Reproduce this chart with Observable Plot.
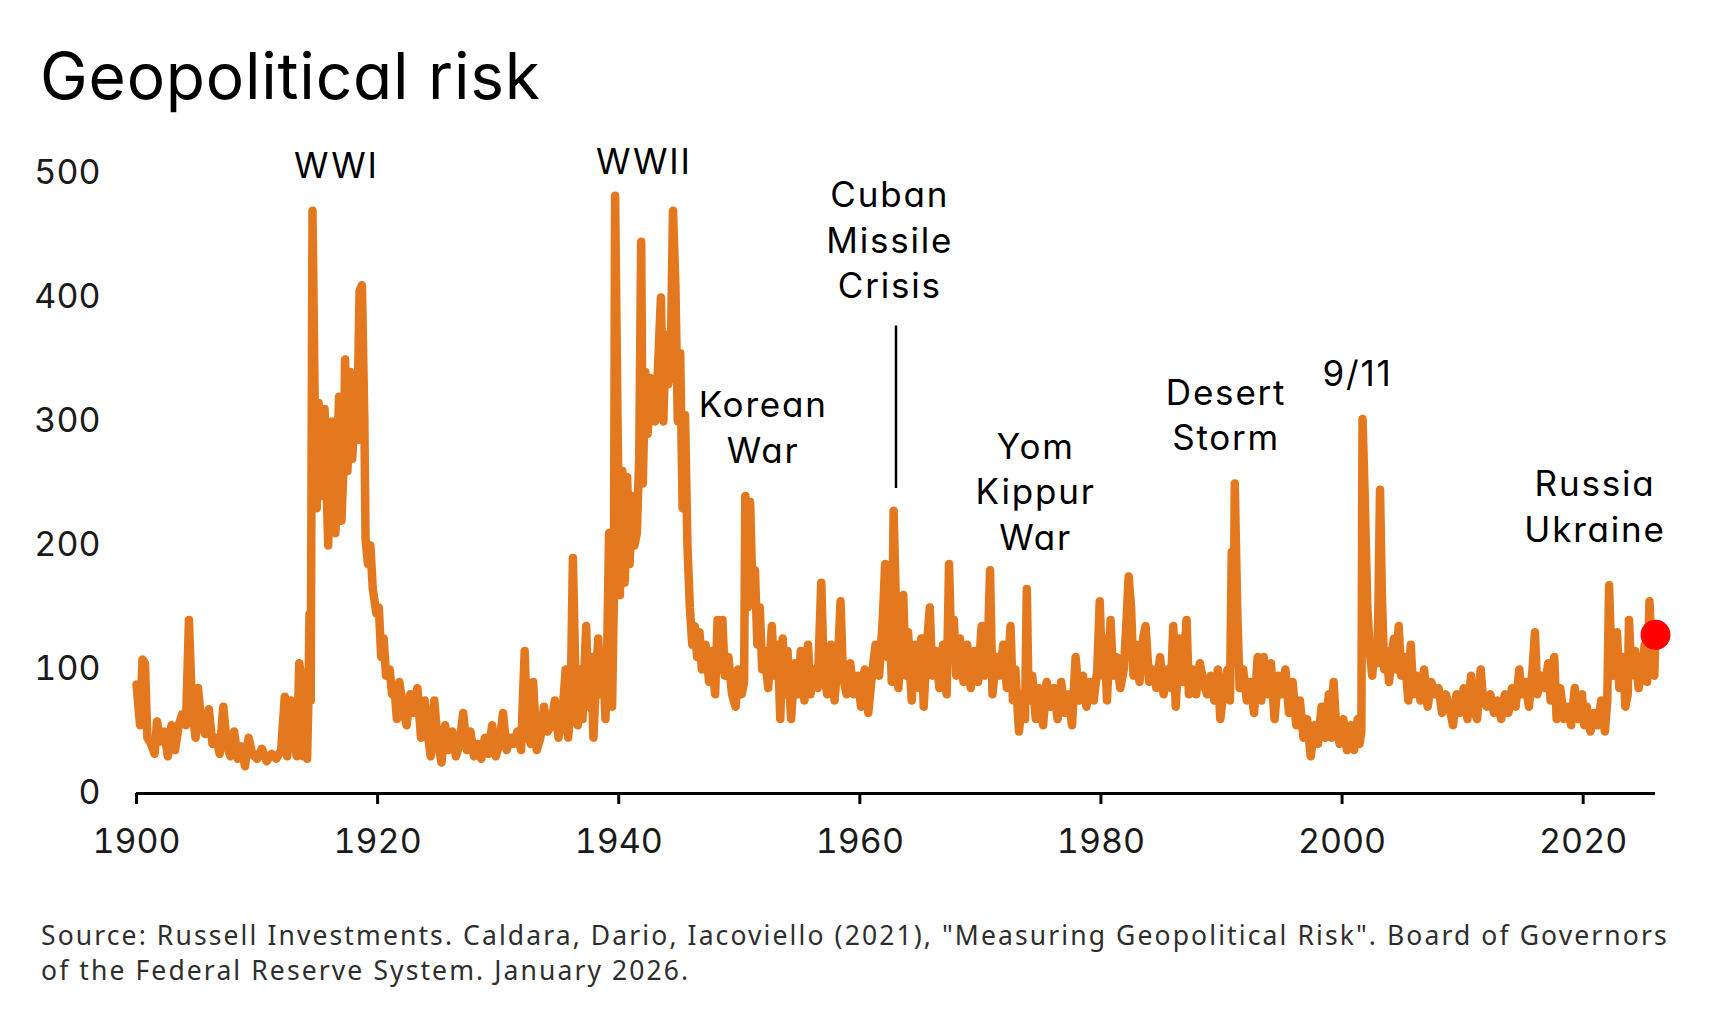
<!DOCTYPE html>
<html><head><meta charset="utf-8">
<script src="https://cdn.jsdelivr.net/npm/d3@7"></script>
<script src="https://cdn.jsdelivr.net/npm/@observablehq/plot@0.6"></script>
<style>
html,body{margin:0;padding:0;background:#fff;}
body{width:1710px;height:1009px;position:relative;overflow:hidden;font-family:Inter,"Noto Sans",sans-serif;}
#title{position:absolute;left:40px;top:44px;font-size:64px;line-height:64px;color:#000;font-weight:400;font-feature-settings:"cv11" 1;letter-spacing:0.8px;white-space:nowrap;}
#chart{position:absolute;left:0;top:130px;}
#note{position:absolute;left:41px;top:918px;font-family:"Noto Sans",sans-serif;font-size:26.5px;line-height:35px;color:#2e2e2e;letter-spacing:2.1px;white-space:nowrap;}
#chart text{font-feature-settings:"cv11" 1;}
</style>
</head><body>
<div id="title">Geopolitical risk</div>
<div id="chart"></div>
<div id="note">Source: Russell Investments. Caldara, Dario, Iacoviello (2021), "Measuring Geopolitical Risk". Board of Governors<br>of the Federal Reserve System. January 2026.</div>
<script>
// Geopolitical risk index, [year, value]
const preWW1 = [[1900.0,88],[1900.3,55],[1900.5,108],[1900.7,105],[1900.9,45],[1901.2,40],[1901.5,32],[1901.7,58],[1902.0,42],[1902.3,50],[1902.6,30],[1902.9,55],[1903.2,35],[1903.5,55],[1903.8,64],[1904.1,55],[1904.35,140],[1904.6,70],[1904.9,45],[1905.1,85],[1905.4,55],[1905.7,48],[1906.0,68],[1906.3,40],[1906.6,45],[1906.9,32],[1907.2,70],[1907.5,38],[1907.8,30],[1908.1,50],[1908.4,28],[1908.7,38],[1909.0,22],[1909.3,45],[1909.6,32],[1910.0,28],[1910.4,36],[1910.8,26],[1911.2,32],[1911.6,28],[1912.0,35],[1912.3,78],[1912.5,30],[1912.8,75],[1913.1,40],[1913.3,30],[1913.5,105],[1913.65,95],[1913.8,30],[1913.95,60],[1914.05,75],[1914.15,28],[1914.25,70],[1914.35,145],[1914.45,75]];
const ww1 = [[1914.6,470],[1914.8,300],[1914.95,230],[1915.1,315],[1915.3,240],[1915.6,310],[1915.9,200],[1916.2,300],[1916.5,210],[1916.8,320],[1917.0,220],[1917.2,270],[1917.3,350],[1917.5,260],[1917.7,340],[1917.9,270],[1918.1,310],[1918.3,285],[1918.5,405],[1918.7,410],[1918.9,300],[1919.0,205],[1919.2,185],[1919.4,200],[1919.6,165],[1919.9,145],[1920.1,150],[1920.3,110],[1920.5,125],[1920.7,95],[1921.0,100]];
const interwar = [[1921.2,80],[1921.4,85],[1921.6,60],[1921.8,90],[1922.1,70],[1922.4,55],[1922.7,80],[1923.0,65],[1923.3,85],[1923.6,45],[1923.9,75],[1924.2,45],[1924.4,30],[1924.7,75],[1925.0,40],[1925.3,25],[1925.6,55],[1925.9,35],[1926.2,50],[1926.5,30],[1926.8,40],[1927.1,65],[1927.4,35],[1927.7,50],[1928.0,30],[1928.3,40],[1928.6,28],[1928.9,45],[1929.2,32],[1929.5,55],[1929.8,30],[1930.1,40],[1930.4,65],[1930.7,35],[1931.0,45],[1931.3,40],[1931.6,50],[1931.9,35],[1932.2,115],[1932.4,50],[1932.7,40],[1932.9,90],[1933.2,35],[1933.5,45],[1933.8,70],[1934.1,50],[1934.4,55],[1934.7,75],[1935.0,45],[1935.3,60],[1935.6,100],[1935.8,45],[1936.0,65],[1936.2,190],[1936.4,95],[1936.6,55],[1936.8,100],[1937.0,60],[1937.3,135],[1937.5,70],[1937.7,110],[1937.9,45],[1938.1,90],[1938.3,125],[1938.5,80],[1938.7,110],[1938.9,60],[1939.0,90],[1939.2,210],[1939.35,100],[1939.45,70],[1939.6,160]];
const ww2 = [[1939.7,482],[1939.9,300],[1940.1,160],[1940.3,260],[1940.5,170],[1940.7,255],[1940.9,185],[1941.1,240],[1941.3,200],[1941.5,210],[1941.7,270],[1941.86,445],[1942.0,250],[1942.2,340],[1942.4,290],[1942.6,335],[1942.8,320],[1943.0,300],[1943.2,330],[1943.5,400],[1943.7,300],[1943.9,370],[1944.1,330],[1944.3,340],[1944.5,470],[1944.7,410],[1944.9,300],[1945.1,355],[1945.3,230],[1945.5,305],[1945.7,200],[1945.9,150],[1946.1,120],[1946.3,135],[1946.5,110],[1946.7,130],[1946.9,100]];
const coldWar = [[1947.2,120],[1947.5,90],[1947.7,115],[1948.0,80],[1948.2,140],[1948.4,100],[1948.6,140],[1948.8,95],[1949.1,110],[1949.4,80],[1949.7,70],[1949.9,100],[1950.2,80],[1950.4,90],[1950.5,240],[1950.7,150],[1950.9,235],[1951.1,160],[1951.3,180],[1951.5,120],[1951.7,150],[1951.9,100],[1952.1,115],[1952.4,85],[1952.7,135],[1952.9,95],[1953.2,120],[1953.4,60],[1953.6,125],[1953.8,80],[1954.0,115],[1954.3,60],[1954.6,105],[1954.9,80],[1955.1,115],[1955.4,75],[1955.7,120],[1955.9,80],[1956.2,100],[1956.5,85],[1956.8,170],[1957.0,100],[1957.3,80],[1957.6,120],[1957.9,75],[1958.2,110],[1958.4,155],[1958.6,95],[1958.9,80],[1959.2,105],[1959.5,80],[1959.8,95],[1960.1,70],[1960.4,100],[1960.7,65],[1961.0,95],[1961.3,120],[1961.6,95],[1961.9,140],[1962.1,185],[1962.3,110],[1962.5,135],[1962.65,90],[1962.8,228],[1963.0,150],[1963.2,85],[1963.4,120],[1963.6,160],[1963.8,95],[1964.0,130],[1964.3,75],[1964.6,120],[1964.9,85],[1965.1,125],[1965.3,70],[1965.5,110],[1965.8,150],[1966.0,95],[1966.3,115],[1966.6,85],[1966.9,120],[1967.2,80],[1967.4,185],[1967.6,110],[1967.8,140],[1968.0,95],[1968.3,125],[1968.6,90],[1968.9,120],[1969.2,85],[1969.5,115],[1969.8,90],[1970.1,135],[1970.3,95],[1970.6,110],[1970.8,180],[1971.0,80],[1971.3,110],[1971.6,95],[1971.9,120],[1972.2,85],[1972.5,135],[1972.7,75],[1972.9,100],[1973.2,50],[1973.5,80],[1973.7,60],[1973.85,165],[1974.0,75],[1974.3,95],[1974.6,60],[1974.9,85]];
const lateCentury = [[1975.2,55],[1975.5,90],[1975.8,70],[1976.1,85],[1976.4,60],[1976.7,90],[1977.0,65],[1977.3,80],[1977.6,55],[1977.9,110],[1978.2,75],[1978.5,95],[1978.8,70],[1979.1,90],[1979.4,75],[1979.7,100],[1979.9,155],[1980.1,95],[1980.3,125],[1980.5,75],[1980.8,140],[1981.0,95],[1981.3,110],[1981.6,85],[1981.9,100],[1982.1,135],[1982.3,175],[1982.5,150],[1982.7,95],[1982.9,120],[1983.2,90],[1983.5,125],[1983.7,135],[1984.0,90],[1984.3,100],[1984.6,85],[1984.9,110],[1985.2,80],[1985.5,100],[1985.8,85],[1986.0,135],[1986.2,70],[1986.5,125],[1986.8,90],[1987.1,140],[1987.3,80],[1987.6,100],[1987.9,80],[1988.2,105],[1988.5,90],[1988.8,80],[1989.1,95],[1989.4,75],[1989.7,100],[1989.9,60],[1990.2,85],[1990.5,100],[1990.7,75],[1990.85,195],[1991.0,110],[1991.1,250],[1991.3,150],[1991.5,85],[1991.8,100],[1992.1,75],[1992.4,90],[1992.7,65],[1993.0,110],[1993.3,75],[1993.5,110],[1993.8,80],[1994.1,105],[1994.4,60],[1994.7,95],[1995.0,80],[1995.3,100],[1995.6,65],[1995.9,90],[1996.2,55],[1996.5,75],[1996.8,45],[1997.1,60],[1997.4,30],[1997.7,55],[1998.0,40],[1998.3,70],[1998.6,45],[1998.9,80],[1999.1,45],[1999.3,90],[1999.5,55],[1999.8,40]];
const modern = [[2000.1,60],[2000.4,35],[2000.7,55],[2001.0,35],[2001.3,60],[2001.45,40],[2001.6,50],[2001.7,302],[2001.85,250],[2002.1,150],[2002.3,115],[2002.5,95],[2002.7,120],[2002.9,105],[2003.0,140],[2003.15,245],[2003.3,160],[2003.5,100],[2003.7,115],[2003.9,90],[2004.1,110],[2004.3,125],[2004.5,100],[2004.7,135],[2004.9,95],[2005.2,110],[2005.5,75],[2005.7,120],[2005.9,80],[2006.2,95],[2006.5,75],[2006.8,100],[2007.1,70],[2007.4,90],[2007.7,80],[2008.0,85],[2008.3,65],[2008.6,80],[2008.9,70],[2009.2,55],[2009.5,80],[2009.8,65],[2010.1,85],[2010.4,60],[2010.7,95],[2010.9,70],[2011.2,60],[2011.5,100],[2011.7,75],[2012.0,70],[2012.3,80],[2012.6,65],[2012.9,75],[2013.2,60],[2013.5,80],[2013.8,65],[2014.1,85],[2014.4,70],[2014.7,100],[2014.9,80],[2015.2,90],[2015.5,70],[2015.8,100],[2016.0,130],[2016.2,80],[2016.5,95],[2016.8,85],[2017.1,105],[2017.3,75],[2017.6,110],[2017.8,60],[2018.1,85],[2018.4,60],[2018.7,70],[2019.0,55],[2019.3,85],[2019.6,60],[2019.9,80],[2020.1,55],[2020.3,70],[2020.6,50],[2020.9,65],[2021.2,55],[2021.5,75],[2021.8,50],[2022.0,75],[2022.15,168],[2022.3,120],[2022.5,95],[2022.8,130],[2023.0,85],[2023.3,110],[2023.5,70],[2023.7,80],[2023.8,140],[2024.0,95],[2024.3,115],[2024.6,85],[2024.9,100],[2025.1,120],[2025.3,90],[2025.5,155],[2025.7,110],[2025.9,95],[2026.0,128]];

const xTicks = [1900, 1920, 1940, 1960, 1980, 2000, 2020];
const yTicks = [0, 100, 200, 300, 400, 500];

const annotLabels = ["WWI", "WWII", "Korean\nWar", "Cuban\nMissile\nCrisis", "Yom\nKippur\nWar", "Desert\nStorm", "9/11", "Russia\nUkraine"];
const annotX = [1916.5, 1942.0, 1951.9, 1962.4, 1974.5, 1990.3, 2001.2, 2020.9];
const annotY = [508, 511, 297, 448, 245, 307, 340, 233];
const cubanPointer = {x: 1963.0, from: 246, to: 377};

const series = [...preWW1, ...ww1, ...interwar, ...ww2, ...coldWar, ...lateCentury, ...modern]
  .map(([year, value]) => ({year, value}));
const last = series[series.length - 1];
const annotations = annotLabels.map((label, i) => ({label, x: annotX[i], y: annotY[i]}));

const chart = Plot.plot({
  width: 1710,
  height: 740,
  marginLeft: 136,
  marginRight: 55,
  marginTop: 43,
  marginBottom: 77,
  style: {fontFamily: "Inter, 'Noto Sans', sans-serif", fontSize: "34px", color: "#1a1a1a", background: "white", overflow: "visible"},
  x: {domain: [1900, 2026]},
  y: {domain: [0, 500]},
  marks: [
    Plot.axisY({ticks: yTicks, tickSize: 0, tickPadding: 36, tickFormat: d => String(d), fontSize: 34, label: null}),
    Plot.axisX({ticks: xTicks, tickSize: 11, tickPadding: 24, tickFormat: d => String(d), strokeWidth: 3, stroke: "#000", fontSize: 34, label: null}),
    Plot.ruleY([0], {stroke: "#000", strokeWidth: 3}),
    Plot.line(series, {x: "year", y: "value", stroke: "#E4781E", strokeWidth: 8.5, strokeLinejoin: "round", strokeLinecap: "round"}),
    Plot.dot([last], {x: "year", y: "value", r: 15, fill: "#FF0000", stroke: "none"}),
    Plot.ruleX([cubanPointer], {x: "x", y1: "from", y2: "to", stroke: "#000", strokeWidth: 2.5}),
    Plot.text(annotations, {x: "x", y: "y", text: "label", lineHeight: 1.3, fontSize: 35, fill: "#000", textAnchor: "middle", dx: 1})
  ]
});
document.getElementById("chart").appendChild(chart);
// letter spacing for the annotation labels
chart.querySelectorAll("g[aria-label='text'] text").forEach(t => t.style.letterSpacing = "1.8px");
</script>
</body></html>
